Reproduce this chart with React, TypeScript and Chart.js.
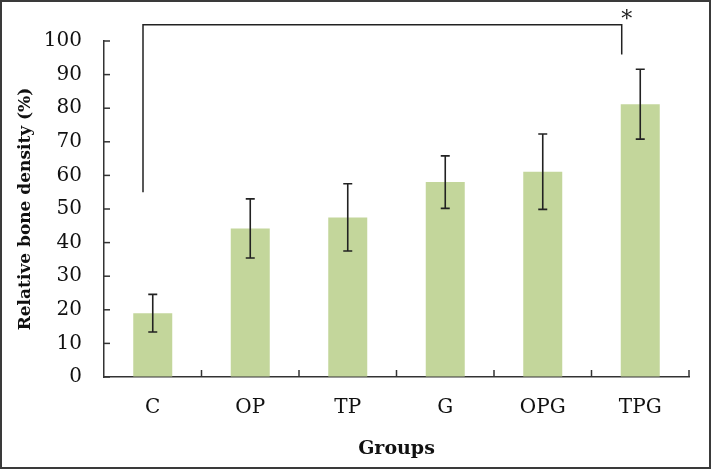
import React, { useEffect, useRef } from "react";
import { Chart, registerables } from "chart.js";

Chart.register(...registerables);

// Groups and measured relative bone density (mean ± SD)
const groups = ["C", "OP", "TP", "G", "OPG", "TPG"];
const density = [19, 44.2, 47.5, 58, 61.1, 81.2];
const errors = [5.6, 8.8, 10, 7.8, 11.2, 10.4];
const yTicks = [0, 10, 20, 30, 40, 50, 60, 70, 80, 90, 100];

// Significance bracket between C and TPG (category index / value units)
const bracketFrom = -0.1;
const bracketTo = 4.81;
const bracketTop = 104.8;
const bracketLeftEnd = 55;
const bracketRightEnd = 96;
const bracketMark = "*";

const FONT = "'DejaVu Serif', 'Liberation Serif', serif";
const INK = "#222";

const overlayPlugin = {
  id: "overlay",
  afterDatasetsDraw(chart: any) {
    const { ctx, scales, chartArea } = chart;
    const x = scales.x;
    const y = scales.y;
    ctx.save();

    // error bars
    ctx.strokeStyle = INK;
    ctx.lineWidth = 1.6;
    density.forEach((v, i) => {
      const px = x.getPixelForValue(i);
      const hi = y.getPixelForValue(v + errors[i]);
      const lo = y.getPixelForValue(v - errors[i]);
      ctx.beginPath();
      ctx.moveTo(px, hi);
      ctx.lineTo(px, lo);
      ctx.moveTo(px - 4.5, hi);
      ctx.lineTo(px + 4.5, hi);
      ctx.moveTo(px - 4.5, lo);
      ctx.lineTo(px + 4.5, lo);
      ctx.stroke();
    });

    // inward tick marks on the value axis
    ctx.strokeStyle = "#333";
    ctx.lineWidth = 1.5;
    yTicks.forEach((t) => {
      const py = y.getPixelForValue(t);
      ctx.beginPath();
      ctx.moveTo(chartArea.left, py);
      ctx.lineTo(chartArea.left + 6, py);
      ctx.stroke();
    });

    // category separators on the group axis
    const w = (chartArea.right - chartArea.left) / groups.length;
    for (let i = 1; i <= groups.length; i++) {
      const px = chartArea.left + i * w;
      ctx.beginPath();
      ctx.moveTo(px, chartArea.bottom);
      ctx.lineTo(px, chartArea.bottom - 7);
      ctx.stroke();
    }

    // significance bracket
    const bx0 = x.getPixelForValue(bracketFrom);
    const bx1 = x.getPixelForValue(bracketTo);
    const by = y.getPixelForValue(bracketTop);
    ctx.strokeStyle = INK;
    ctx.lineWidth = 1.5;
    ctx.beginPath();
    ctx.moveTo(bx0, y.getPixelForValue(bracketLeftEnd));
    ctx.lineTo(bx0, by);
    ctx.lineTo(bx1, by);
    ctx.lineTo(bx1, y.getPixelForValue(bracketRightEnd));
    ctx.stroke();

    ctx.fillStyle = INK;
    ctx.font = `22px ${FONT}`;
    ctx.textAlign = "center";
    ctx.textBaseline = "middle";
    ctx.fillText(bracketMark, bx1 + 5, by - 5);

    // outer frame
    ctx.strokeStyle = "#3a3a3a";
    ctx.lineWidth = 2;
    ctx.strokeRect(1, 1, chart.width - 2, chart.height - 2);
    ctx.restore();
  },
};

export default function App() {
  const canvasRef = useRef<HTMLCanvasElement | null>(null);

  useEffect(() => {
    if (!canvasRef.current) return;
    const chart = new Chart(canvasRef.current, {
      type: "bar",
      data: {
        labels: groups,
        datasets: [
          {
            data: density,
            backgroundColor: "#c3d69b",
            borderWidth: 0,
            barPercentage: 0.4,
            categoryPercentage: 1,
          },
        ],
      },
      options: {
        animation: false,
        responsive: false,
        devicePixelRatio: 1,
        layout: { padding: { top: 41, right: 22, left: 0, bottom: 0 } },
        plugins: {
          legend: { display: false },
          tooltip: { enabled: false },
        },
        scales: {
          x: {
            grid: { drawOnChartArea: false, drawTicks: false },
            border: { display: true, color: "#333", width: 1.5 },
            ticks: {
              padding: 19,
              color: "#111",
              font: { family: FONT, size: 20 },
            },
            title: {
              display: true,
              text: "Groups",
              color: "#111",
              font: { family: FONT, size: 19, weight: "bold" },
              padding: { top: 0, bottom: 9 },
            },
            afterFit(scale: any) {
              scale.height = 92;
            },
          },
          y: {
            min: 0,
            max: 100,
            grid: { drawOnChartArea: false, drawTicks: false },
            border: { display: true, color: "#333", width: 1.5 },
            ticks: {
              stepSize: 10,
              padding: 22,
              color: "#111",
              font: { family: FONT, size: 20 },
            },
            title: {
              display: true,
              text: "Relative bone density (%)",
              color: "#111",
              font: { family: FONT, size: 17, weight: "bold" },
              padding: { top: 15, bottom: 0 },
            },
            afterFit(scale: any) {
              scale.width = 104;
            },
          },
        },
      },
      plugins: [overlayPlugin],
    });
    return () => chart.destroy();
  }, []);

  return (
    <div
      style={{
        position: "fixed",
        left: 0,
        top: 0,
        width: 711,
        height: 469,
        background: "#fff",
      }}
    >
      <canvas ref={canvasRef} width={711} height={469} />
    </div>
  );
}
